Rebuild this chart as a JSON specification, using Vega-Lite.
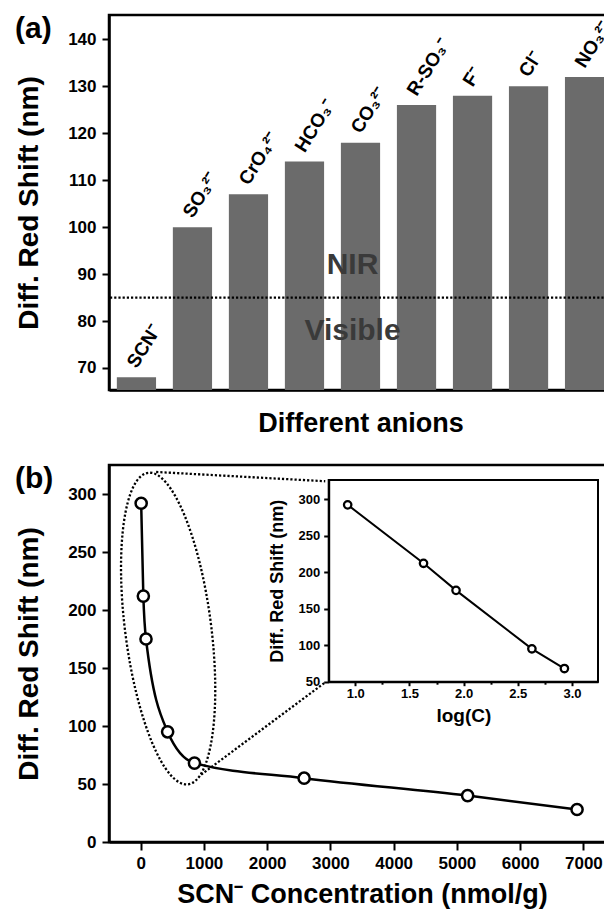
{
  "$schema": "https://vega.github.io/schema/vega-lite/v6.json",
  "padding": {"left": 13, "top": 12, "right": 0, "bottom": 0},
  "background": "white",
  "bounds": "flush",
  "spacing": 75,
  "datasets": {
    "bars": [
      {"anion": "SCN⁻", "shift": 68},
      {"anion": "SO₃²⁻", "shift": 100},
      {"anion": "CrO₄²⁻", "shift": 107},
      {"anion": "HCO₃⁻", "shift": 114},
      {"anion": "CO₃²⁻", "shift": 118},
      {"anion": "R-SO₃⁻", "shift": 126},
      {"anion": "F⁻", "shift": 128},
      {"anion": "Cl⁻", "shift": 130},
      {"anion": "NO₃²⁻", "shift": 132}
    ],
    "main": [
      {"conc": 8.5, "shift": 292},
      {"conc": 43, "shift": 212},
      {"conc": 85, "shift": 175},
      {"conc": 427, "shift": 95},
      {"conc": 851, "shift": 68},
      {"conc": 2585, "shift": 55},
      {"conc": 5170, "shift": 40},
      {"conc": 6900, "shift": 28}
    ],
    "inset": [
      {"logc": 0.93, "shift": 292},
      {"logc": 1.63, "shift": 212},
      {"logc": 1.93, "shift": 175},
      {"logc": 2.63, "shift": 95},
      {"logc": 2.93, "shift": 68}
    ]
  },
  "config": {
    "font": "Liberation Sans",
    "view": {"stroke": "black", "strokeWidth": 2.5},
    "axis": {
      "domainColor": "black", "domainWidth": 2.5, "tickColor": "black", "tickWidth": 2,
      "labelFont": "Liberation Sans", "labelFontWeight": "bold", "labelColor": "black",
      "titleFont": "Liberation Sans", "titleFontWeight": "bold", "titleColor": "black",
      "grid": false, "labelOverlap": false, "labelFlush": false
    },
    "title": {"font": "Liberation Sans", "fontWeight": "bold", "color": "black"}
  },
  "vconcat": [
    {
      "width": 503,
      "height": 375,
      "title": {"text": "(a)", "anchor": "start", "frame": "group", "orient": "top", "offset": 0, "dx": -94, "dy": 53, "fontSize": 30, "baseline": "alphabetic"},
      "data": {"name": "bars"},
      "layer": [
        {
          "mark": {"type": "bar", "color": "#6b6b6b", "clip": true},
          "encoding": {
            "x": {"field": "anion", "type": "nominal", "sort": null,
              "scale": {"paddingInner": 0.3, "paddingOuter": 0.14},
              "axis": {"orient": "bottom", "title": "Different anions", "labels": false, "ticks": false, "titleFontSize": 27, "titlePadding": 20}},
            "y": {"field": "shift", "type": "quantitative",
              "scale": {"domain": [65.3, 145.2], "nice": false, "zero": false},
              "axis": {"orient": "left", "title": "Diff. Red Shift (nm)",
                "values": [70, 75, 80, 85, 90, 95, 100, 105, 110, 115, 120, 125, 130, 135, 140],
                "labelExpr": "datum.value % 10 === 0 ? datum.label : ''",
                "tickSize": {"condition": {"test": "datum.value % 10 === 0", "value": 7}, "value": 4},
                "labelFontSize": 17, "labelPadding": 6, "titleFontSize": 28, "titlePadding": 24}}
          }
        },
        {
          "mark": {"type": "text", "angle": -58, "align": "left", "baseline": "alphabetic", "dx": 7, "dy": -4, "fontSize": 19, "fontWeight": "bold", "color": "black"},
          "encoding": {
            "x": {"field": "anion", "type": "nominal", "sort": null},
            "y": {"field": "shift", "type": "quantitative"},
            "text": {"field": "anion"}
          }
        },
        {
          "data": {"values": [{}]},
          "mark": {"type": "rule", "strokeDash": [2.2, 2], "strokeWidth": 2.3, "color": "black"},
          "encoding": {"y": {"datum": 85}}
        },
        {
          "data": {"values": [{}]},
          "mark": {"type": "text", "text": "NIR", "fontSize": 30, "fontWeight": "bold", "color": "#3a3a3a", "baseline": "alphabetic", "align": "center", "dx": -8},
          "encoding": {"x": {"datum": "CO₃²⁻"}, "y": {"datum": 90}}
        },
        {
          "data": {"values": [{}]},
          "mark": {"type": "text", "text": "Visible", "fontSize": 30, "fontWeight": "bold", "color": "#3a3a3a", "baseline": "alphabetic", "align": "center", "dx": -8},
          "encoding": {"x": {"datum": "CO₃²⁻"}, "y": {"datum": 76}}
        }
      ]
    },
    {
      "width": 506,
      "height": 377,
      "title": {"text": "(b)", "anchor": "start", "frame": "group", "orient": "top", "offset": 0, "dx": -94, "dy": 53, "fontSize": 30, "baseline": "alphabetic"},
      "layer": [
        {
          "layer": [
            {
              "data": {"values": [{}]},
              "mark": {"type": "point", "shape": "M -0.127 -0.992 A 0.274 1 -7.3 0 0 0.127 0.992 A 0.274 1 -7.3 0 0 -0.127 -0.992 Z", "size": 98596, "filled": false, "color": "black", "strokeWidth": 2.3, "strokeDash": [2.2, 2], "opacity": 1},
              "encoding": {"x": {"datum": 435}, "y": {"datum": 184}}
            },
            {
              "data": {"values": [{}]},
              "mark": {"type": "rule", "strokeDash": [2.2, 2], "strokeWidth": 2.3, "color": "black"},
              "encoding": {"x": {"datum": 245}, "y": {"datum": 319}, "x2": {"datum": 2919}, "y2": {"datum": 311}}
            },
            {
              "data": {"values": [{}]},
              "mark": {"type": "rule", "strokeDash": [2.2, 2], "strokeWidth": 2.3, "color": "black"},
              "encoding": {"x": {"datum": 2903}, "y": {"datum": 137}, "x2": {"datum": 957}, "y2": {"datum": 58}}
            },
            {
              "data": {"name": "main"},
              "mark": {"type": "line", "interpolate": "monotone", "color": "black", "strokeWidth": 2.5},
              "encoding": {
                "x": {"field": "conc", "type": "quantitative",
                  "scale": {"domain": [-500, 7500], "nice": false, "zero": false},
                  "axis": {"orient": "bottom", "title": "SCN⁻ Concentration (nmol/g)",
                    "values": [0, 500, 1000, 1500, 2000, 2500, 3000, 3500, 4000, 4500, 5000, 5500, 6000, 6500, 7000],
                    "format": "d",
                    "labelExpr": "datum.value % 1000 === 0 ? datum.label : ''",
                    "tickSize": {"condition": {"test": "datum.value % 1000 === 0", "value": 8}, "value": 4.5},
                    "labelFontSize": 17, "labelPadding": 5, "titleFontSize": 27, "titlePadding": 10}},
                "y": {"field": "shift", "type": "quantitative",
                  "scale": {"domain": [0, 325], "nice": false, "zero": false},
                  "axis": {"orient": "left", "title": "Diff. Red Shift (nm)",
                    "values": [0, 25, 50, 75, 100, 125, 150, 175, 200, 225, 250, 275, 300],
                    "labelExpr": "datum.value % 50 === 0 ? datum.label : ''",
                    "tickSize": {"condition": {"test": "datum.value % 50 === 0", "value": 7}, "value": 4},
                    "labelFontSize": 17, "labelPadding": 6, "titleFontSize": 28, "titlePadding": 24}}
              }
            },
            {
              "data": {"name": "main"},
              "mark": {"type": "point", "shape": "circle", "size": 125, "filled": true, "fill": "white", "stroke": "black", "strokeWidth": 2.5, "opacity": 1},
              "encoding": {
                "x": {"field": "conc", "type": "quantitative"},
                "y": {"field": "shift", "type": "quantitative"}
              }
            }
          ]
        },
        {
          "layer": [
            {
              "data": {"name": "inset"},
              "mark": {"type": "line", "color": "black", "strokeWidth": 2},
              "encoding": {
                "x": {"field": "logc", "type": "quantitative",
                  "scale": {"domain": [0.755, 3.24], "range": [219.7, 489], "nice": false, "zero": false},
                  "axis": {"orient": "bottom", "offset": -160.3, "title": "log(C)",
                    "values": [1, 1.25, 1.5, 1.75, 2, 2.25, 2.5, 2.75, 3],
                    "format": ".1f",
                    "labelExpr": "(datum.value * 2) % 1 === 0 ? datum.label : ''",
                    "tickSize": {"condition": {"test": "(datum.value * 2) % 1 === 0", "value": 4}, "value": 2.5},
                    "domainWidth": 2, "labelFontSize": 13, "labelPadding": 2, "titleFontSize": 19, "titlePadding": 6}},
                "y": {"field": "shift", "type": "quantitative",
                  "scale": {"domain": [50, 326], "range": [216.7, 15], "nice": false, "zero": false},
                  "axis": {"orient": "left", "offset": -219.7, "title": "Diff. Red Shift (nm)",
                    "values": [50, 75, 100, 125, 150, 175, 200, 225, 250, 275, 300],
                    "labelExpr": "datum.value % 50 === 0 ? datum.label : ''",
                    "tickSize": {"condition": {"test": "datum.value % 50 === 0", "value": 5}, "value": 2.5},
                    "domainWidth": 2, "labelFontSize": 13, "labelPadding": 4, "titleFontSize": 18, "titlePadding": 12}}
              }
            },
            {
              "data": {"values": [{}]},
              "mark": {"type": "rect", "filled": false, "color": "black", "strokeWidth": 2},
              "encoding": {
                "x": {"datum": 0.755}, "x2": {"datum": 3.24},
                "y": {"datum": 50}, "y2": {"datum": 326}
              }
            },
            {
              "data": {"name": "inset"},
              "mark": {"type": "point", "shape": "circle", "size": 55, "filled": true, "fill": "white", "stroke": "black", "strokeWidth": 2.3, "opacity": 1},
              "encoding": {
                "x": {"field": "logc", "type": "quantitative"},
                "y": {"field": "shift", "type": "quantitative"}
              }
            }
          ]
        }
      ],
      "resolve": {"scale": {"x": "independent", "y": "independent"}, "axis": {"x": "independent", "y": "independent"}}
    }
  ]
}
